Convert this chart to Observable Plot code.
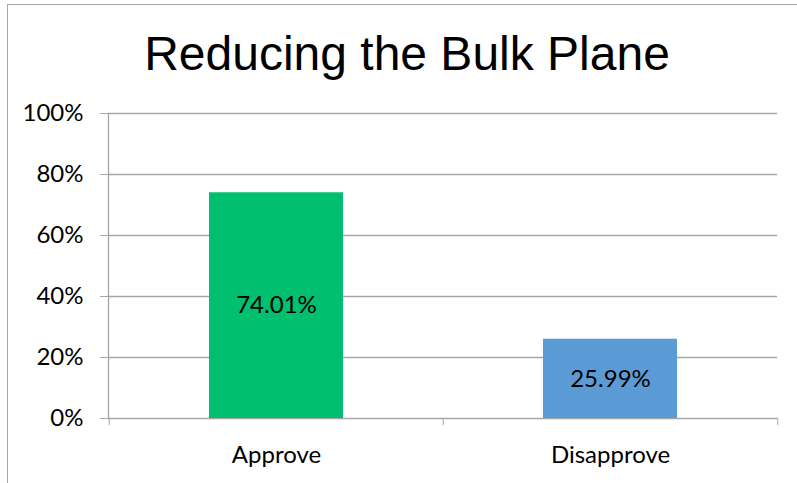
<!DOCTYPE html>
<html>
<head>
<meta charset="utf-8">
<script src="https://cdn.jsdelivr.net/npm/d3@7"></script>
<script src="https://cdn.jsdelivr.net/npm/@observablehq/plot@0.6"></script>
<style>
  html, body { margin: 0; padding: 0; background: #fff; }
  #wrap { position: relative; width: 797px; height: 483px; overflow: hidden; }
  #border { position: absolute; left: 7px; top: 4px; width: 800px; height: 490px;
            border-left: 1.5px solid #A6A6A6; border-top: 1.5px solid #A6A6A6; }
  #title { position: absolute; left: 7px; width: 800px; top: 26px; text-align: center; line-height: 55px;
           font-family: "Liberation Sans", Arial, sans-serif; font-size: 48px; color: #000; }
  #chart { position: absolute; left: 0; top: 0; }
</style>
</head>
<body>
<div id="wrap">
  <div id="border"></div>
  <div id="title">Reducing the Bulk Plane</div>
  <div id="chart"></div>
</div>
<script>
const categories = ["Approve", "Disapprove"];
const values = [0.7401, 0.2599];
const labels = ["74.01%", "25.99%"];
const colors = ["#00BF6F", "#5B9BD5"];
const yTicks = [0, 0.2, 0.4, 0.6, 0.8, 1.0];

const data = categories.map((c, i) => ({category: c, value: values[i], label: labels[i], color: colors[i]}));
const font = "Lato, 'Noto Sans', sans-serif";

const plot = Plot.plot({
  width: 797,
  height: 483,
  marginLeft: 108,
  marginRight: 20,
  marginTop: 113,
  marginBottom: 65,
  style: {fontFamily: font, fontSize: "24px", color: "#000", background: "transparent"},
  x: {domain: categories, paddingInner: 0.6, paddingOuter: 0.3, label: null},
  y: {domain: [0, 1], label: null},
  marks: [
    Plot.ruleY(yTicks, {stroke: "#A6A6A6", strokeWidth: 1.3}),
    Plot.barY(data, {x: "category", y: "value", fill: "color"}),
    Plot.frame({anchor: "left", stroke: "#A6A6A6", strokeWidth: 1.3}),
    Plot.axisY({ticks: yTicks, tickFormat: d3.format(".0%"), tickSize: 8, tickPadding: 17, stroke: "#A6A6A6", strokeOpacity: 1, label: null, fontSize: 24}),
    Plot.axisX({tickSize: 0, tickPadding: 27, label: null, fontSize: 24}),
    Plot.axisX({tickSize: 7, text: null, dx: -167.25, stroke: "#A6A6A6", strokeOpacity: 1, label: null}),
    Plot.axisX({ticks: ["Disapprove"], tickSize: 7, text: null, dx: 167.25, stroke: "#A6A6A6", strokeOpacity: 1, label: null}),
    Plot.text(data, {x: "category", y: d => d.value / 2, text: "label", fontSize: 24, fill: "#000"})
  ]
});
document.getElementById("chart").appendChild(plot);
</script>
</body>
</html>
